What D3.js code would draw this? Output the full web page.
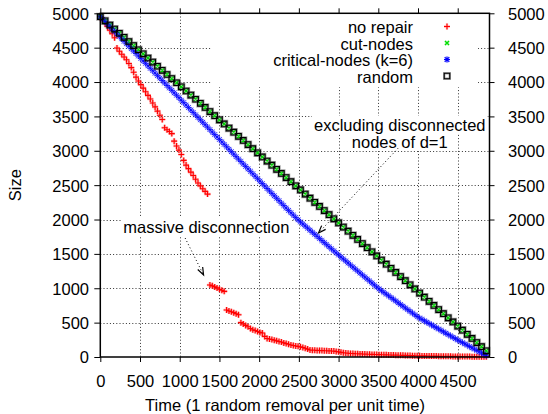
<!DOCTYPE html>
<html><head><meta charset="utf-8">
<script src="https://cdn.jsdelivr.net/npm/d3@7"></script>
<style>
body{margin:0;background:#fff}
svg{display:block}
text{font-family:"Liberation Sans",Arial,Helvetica,sans-serif;fill:#000}
</style>
</head><body>
<svg id="chart" width="548" height="414"></svg>
<script>
// ---------------- data ----------------
// time stamps of the square/x-marked series (every 60 removals)
const times = [0,60,120,180,240,300,360,420,480,540,600,660,720,780,840,900,960,1020,1080,1140,1200,1260,1320,1380,1440,1500,1560,1620,1680,1740,1800,1860,1920,1980,2040,2100,2160,2220,2280,2340,2400,2460,2520,2580,2640,2700,2760,2820,2880,2940,3000,3060,3120,3180,3240,3300,3360,3420,3480,3540,3600,3660,3720,3780,3840,3900,3960,4020,4080,4140,4200,4260,4320,4380,4440,4500,4560,4620,4680,4740,4800,4860];
// time stamps of the denser series (every 30 removals)
const timesFine = [0,30,60,90,120,150,180,210,240,270,300,330,360,390,420,450,480,510,540,570,600,630,660,690,720,750,780,810,840,870,900,930,960,990,1020,1050,1080,1110,1140,1170,1200,1230,1260,1290,1320,1350,1380,1410,1440,1470,1500,1530,1560,1590,1620,1650,1680,1710,1740,1770,1800,1830,1860,1890,1920,1950,1980,2010,2040,2070,2100,2130,2160,2190,2220,2250,2280,2310,2340,2370,2400,2430,2460,2490,2520,2550,2580,2610,2640,2670,2700,2730,2760,2790,2820,2850,2880,2910,2940,2970,3000,3030,3060,3090,3120,3150,3180,3210,3240,3270,3300,3330,3360,3390,3420,3450,3480,3510,3540,3570,3600,3630,3660,3690,3720,3750,3780,3810,3840,3870,3900,3930,3960,3990,4020,4050,4080,4110,4140,4170,4200,4230,4260,4290,4320,4350,4380,4410,4440,4470,4500,4530,4560,4590,4620,4650,4680,4710,4740,4770,4800,4830,4860];

const noRepair = [4950,4905,4856,4808,4755,4702,4645,4495,4448,4405,4365,4324,4270,4210,4143,4072,4015,3963,3911,3858,3806,3754,3696,3638,3577,3517,3455,3335,3305,3280,3250,3140,3070,3010,2945,2860,2792,2740,2690,2640,2585,2532,2490,2448,2410,2370,1047,1035,1020,1005,985,970,955,684,670,658,645,630,615,500,480,460,440,415,395,385,370,358,350,300,270,262,255,245,235,225,218,205,195,185,175,168,160,155,148,138,128,115,102,100,98,96,95,93,92,90,89,88,86,80,75,68,62,58,54,52,50,48,47,45,44,42,41,40,38,37,36,34,33,32,31,30,29,28,27,26,25,24,23,22,21,20,19,18,17,16,16,15,14,14,13,13,12,12,11,11,10,10,9,9,8,8,7,7,6,6,5,5,4,4,3,3,2];

const cutNodes = [4950,4890,4830,4770,4710,4650,4590,4530,4470,4410,4350,4290,4230,4170,4110,4050,3990,3930,3870,3810,3750,3690,3630,3570,3510,3450,3390,3330,3270,3210,3150,3090,3030,2970,2910,2850,2790,2730,2670,2610,2550,2490,2430,2370,2310,2250,2190,2130,2070,2010,1950,1890,1830,1770,1710,1650,1590,1530,1470,1410,1350,1290,1230,1170,1110,1050,990,930,870,810,750,690,630,570,510,450,390,330,270,210,150,90];

const criticalNodes = [4950,4914,4879,4843,4807,4772,4736,4700,4664,4629,4593,4557,4522,4486,4450,4415,4379,4343,4307,4272,4236,4200,4165,4129,4093,4058,4022,3986,3950,3915,3879,3843,3808,3772,3736,3701,3665,3629,3593,3558,3522,3486,3451,3415,3379,3344,3308,3272,3236,3201,3165,3129,3094,3058,3022,2987,2951,2915,2879,2844,2808,2772,2737,2701,2665,2630,2594,2558,2523,2487,2451,2416,2380,2345,2309,2274,2238,2203,2167,2132,2098,2064,2030,1996,1965,1935,1905,1875,1845,1815,1785,1755,1725,1694,1664,1634,1604,1574,1544,1514,1484,1455,1426,1397,1368,1338,1309,1280,1251,1222,1193,1164,1135,1106,1077,1048,1018,991,965,940,915,890,865,840,815,789,764,739,714,689,664,639,614,589,567,547,527,507,487,467,447,427,407,387,367,347,327,307,287,267,247,228,209,190,171,152,133,115,96,77,58,39,20];

const randomRemoval = [4950,4890,4830,4770,4710,4650,4590,4530,4470,4410,4350,4290,4230,4170,4110,4050,3990,3930,3870,3810,3750,3690,3630,3570,3510,3450,3390,3330,3270,3210,3150,3090,3030,2970,2910,2850,2790,2730,2670,2610,2550,2490,2430,2370,2310,2250,2190,2130,2070,2010,1950,1890,1830,1770,1710,1650,1590,1530,1470,1410,1350,1290,1230,1170,1110,1050,990,930,870,810,750,690,630,570,510,450,390,330,270,210,150,90];

const seriesNames = ["no repair","cut-nodes","critical-nodes (k=6)","random"];
const xTicks = [0,500,1000,1500,2000,2500,3000,3500,4000,4500];
const yTicks = [0,500,1000,1500,2000,2500,3000,3500,4000,4500,5000];
const xDomain = [0,4900];
const yDomain = [0,5000];
const xTitle = "Time (1 random removal per unit time)";
const yTitle = "Size";
const annotations = [
  {lines:["massive disconnection"], x:290, y:[1804], anchor:"start", from:[1068,1731], to:[1300,1193]},
  {lines:["excluding disconnected","nodes of d=1"], x:3770, y:[3288,3040], anchor:"middle", from:[3748,3036], to:[2747,1804]}
];

// ---------------- layout ----------------
const svg = d3.select("#chart");
const L = 100.3, R = 489.5, T = 13.3, B = 357;
const x = d3.scaleLinear().domain(xDomain).range([L,R]);
const y = d3.scaleLinear().domain(yDomain).range([B,T]);
const FS = 16.5;

// grid
const grid = svg.append("g").attr("stroke","#333").attr("stroke-width",1).attr("stroke-dasharray","1,2.2").attr("fill","none");
xTicks.filter(t=>t>0).forEach(t=>{
  grid.append("line").attr("x1",Math.round(x(t))+0.5).attr("x2",Math.round(x(t))+0.5).attr("y1",T).attr("y2",B);
});
yTicks.filter(t=>t>0 && t<5000).forEach(t=>{
  grid.append("line").attr("y1",Math.round(y(t))+0.5).attr("y2",Math.round(y(t))+0.5).attr("x1",L).attr("x2",R);
});

// opaque key area
svg.append("rect").attr("x",212).attr("y",T).attr("width",266).attr("height",74).attr("fill","#fff");

// annotations (opaque text boxes + dotted arrows)
const annG = svg.append("g");
annotations.forEach(a=>{
  a.lines.forEach((ln,i)=>{
    const t = annG.append("text").attr("x",x(a.x)).attr("y",y(a.y[i])).attr("text-anchor",a.anchor).attr("font-size",FS).text(ln);
    const bb = t.node().getBBox();
    annG.insert("rect","text").attr("x",bb.x-2).attr("y",bb.y).attr("width",bb.width+4).attr("height",bb.height).attr("fill","#fff");
  });
});
annotations.forEach(a=>{
  const x1=x(a.from[0]), y1=y(a.from[1]), x2=x(a.to[0]), y2=y(a.to[1]);
  annG.append("line").attr("x1",x1).attr("y1",y1).attr("x2",x2).attr("y2",y2)
    .attr("stroke","#000").attr("stroke-width",1).attr("stroke-dasharray","1,2.5");
  const ang = Math.atan2(y2-y1,x2-x1), hl = 8, ha = 0.35;
  const p1 = [x2-hl*Math.cos(ang-ha), y2-hl*Math.sin(ang-ha)];
  const p2 = [x2-hl*Math.cos(ang+ha), y2-hl*Math.sin(ang+ha)];
  annG.append("path").attr("d",`M${p1[0]},${p1[1]}L${x2},${y2}L${p2[0]},${p2[1]}`)
    .attr("fill","none").attr("stroke","#000").attr("stroke-width",1.2);
});

// markers
function plusPath(cx,cy,s){return `M${cx-s},${cy}H${cx+s}M${cx},${cy-s}V${cy+s}`;}
function crossPath(cx,cy,s){return `M${cx-s},${cy-s}L${cx+s},${cy+s}M${cx-s},${cy+s}L${cx+s},${cy-s}`;}
function starPath(cx,cy){return plusPath(cx,cy,3)+crossPath(cx,cy,2.3);}
function squarePath(cx,cy,s){return `M${cx-s},${cy-s}H${cx+s}V${cy+s}H${cx-s}Z`;}

const styles = [
  {color:"#ff0000", halo:"rgba(255,0,0,0.3)", hw:2.6, path:(cx,cy)=>plusPath(cx,cy,3), w:1.1},
  {color:"#00e000", halo:"rgba(0,200,0,0.3)", hw:2.6, path:(cx,cy)=>crossPath(cx,cy,2), w:1.1},
  {color:"#0000ff", halo:"rgba(60,60,255,0.18)", hw:2.2, path:(cx,cy)=>starPath(cx,cy), w:0.8},
  {color:"#000000", halo:"rgba(0,0,0,0.35)", hw:2.6, path:(cx,cy)=>squarePath(cx,cy,2.8), w:1.1}
];
const seriesValues = [noRepair, cutNodes, criticalNodes, randomRemoval];
const seriesTimes = [timesFine, times, timesFine, times];

const plotG = svg.append("g");
seriesValues.forEach((vals,si)=>{
  const st = styles[si], ts = seriesTimes[si];
  const n = Math.min(vals.length, ts.length);
  const d = vals.slice(0,n).map((v,i)=>st.path(x(ts[i]),y(v))).join("");
  plotG.append("path").attr("d",d).attr("fill","none").attr("stroke",st.halo).attr("stroke-width",st.hw);
  plotG.append("path").attr("d",d).attr("fill","none").attr("stroke",st.color).attr("stroke-width",st.w);
});

// legend
const legBase = [33, 49.5, 66, 82.5];
const legG = svg.append("g");
seriesNames.forEach((n,i)=>{
  legG.append("text").attr("x",413).attr("y",legBase[i]).attr("text-anchor","end").attr("font-size",FS).text(n);
  const st = styles[i];
  const d = st.path(447, legBase[i]-6.5);
  legG.append("path").attr("d",d).attr("fill","none").attr("stroke",st.halo).attr("stroke-width",2.4);
  legG.append("path").attr("d",d).attr("fill","none").attr("stroke",st.color).attr("stroke-width",1.1);
});

// axes
function styleAxis(g){
  g.select(".domain").remove();
  g.selectAll(".tick line").attr("stroke","#000").attr("stroke-width",1);
  g.selectAll(".tick text").attr("font-size",FS).attr("font-family",'"Liberation Sans",Arial,sans-serif').attr("fill","#000");
}
const gx = svg.append("g").attr("transform",`translate(0,${B})`)
  .call(d3.axisBottom(x).tickValues(xTicks).tickSize(5).tickFormat(d3.format("d")));
styleAxis(gx);
gx.selectAll(".tick text").attr("dy",null).attr("y",30);

const gxt = svg.append("g").attr("transform",`translate(0,${T})`)
  .call(d3.axisTop(x).tickValues(xTicks).tickSize(5).tickFormat(""));
styleAxis(gxt);

const gy = svg.append("g").attr("transform",`translate(${L},0)`)
  .call(d3.axisLeft(y).tickValues(yTicks).tickSize(6).tickFormat(d3.format("d")));
styleAxis(gy);
gy.selectAll(".tick text").attr("x",-11.3).attr("dy","0.36em");

const gy2 = svg.append("g").attr("transform",`translate(${R},0)`)
  .call(d3.axisRight(y).tickValues(yTicks).tickSize(5).tickFormat(d3.format("d")));
styleAxis(gy2);
gy2.selectAll(".tick text").attr("x",18.5).attr("dy","0.36em");

// frame
svg.append("rect").attr("x",L).attr("y",T).attr("width",R-L).attr("height",B-T)
  .attr("fill","none").attr("stroke","#000").attr("stroke-width",1.5);

// titles
svg.append("text").attr("x",285).attr("y",411).attr("text-anchor","middle").attr("font-size",FS).text(xTitle);
svg.append("text").attr("transform",`translate(21,${(T+B)/2}) rotate(-90)`).attr("text-anchor","middle").attr("font-size",FS).text(yTitle);
</script>
</body></html>
